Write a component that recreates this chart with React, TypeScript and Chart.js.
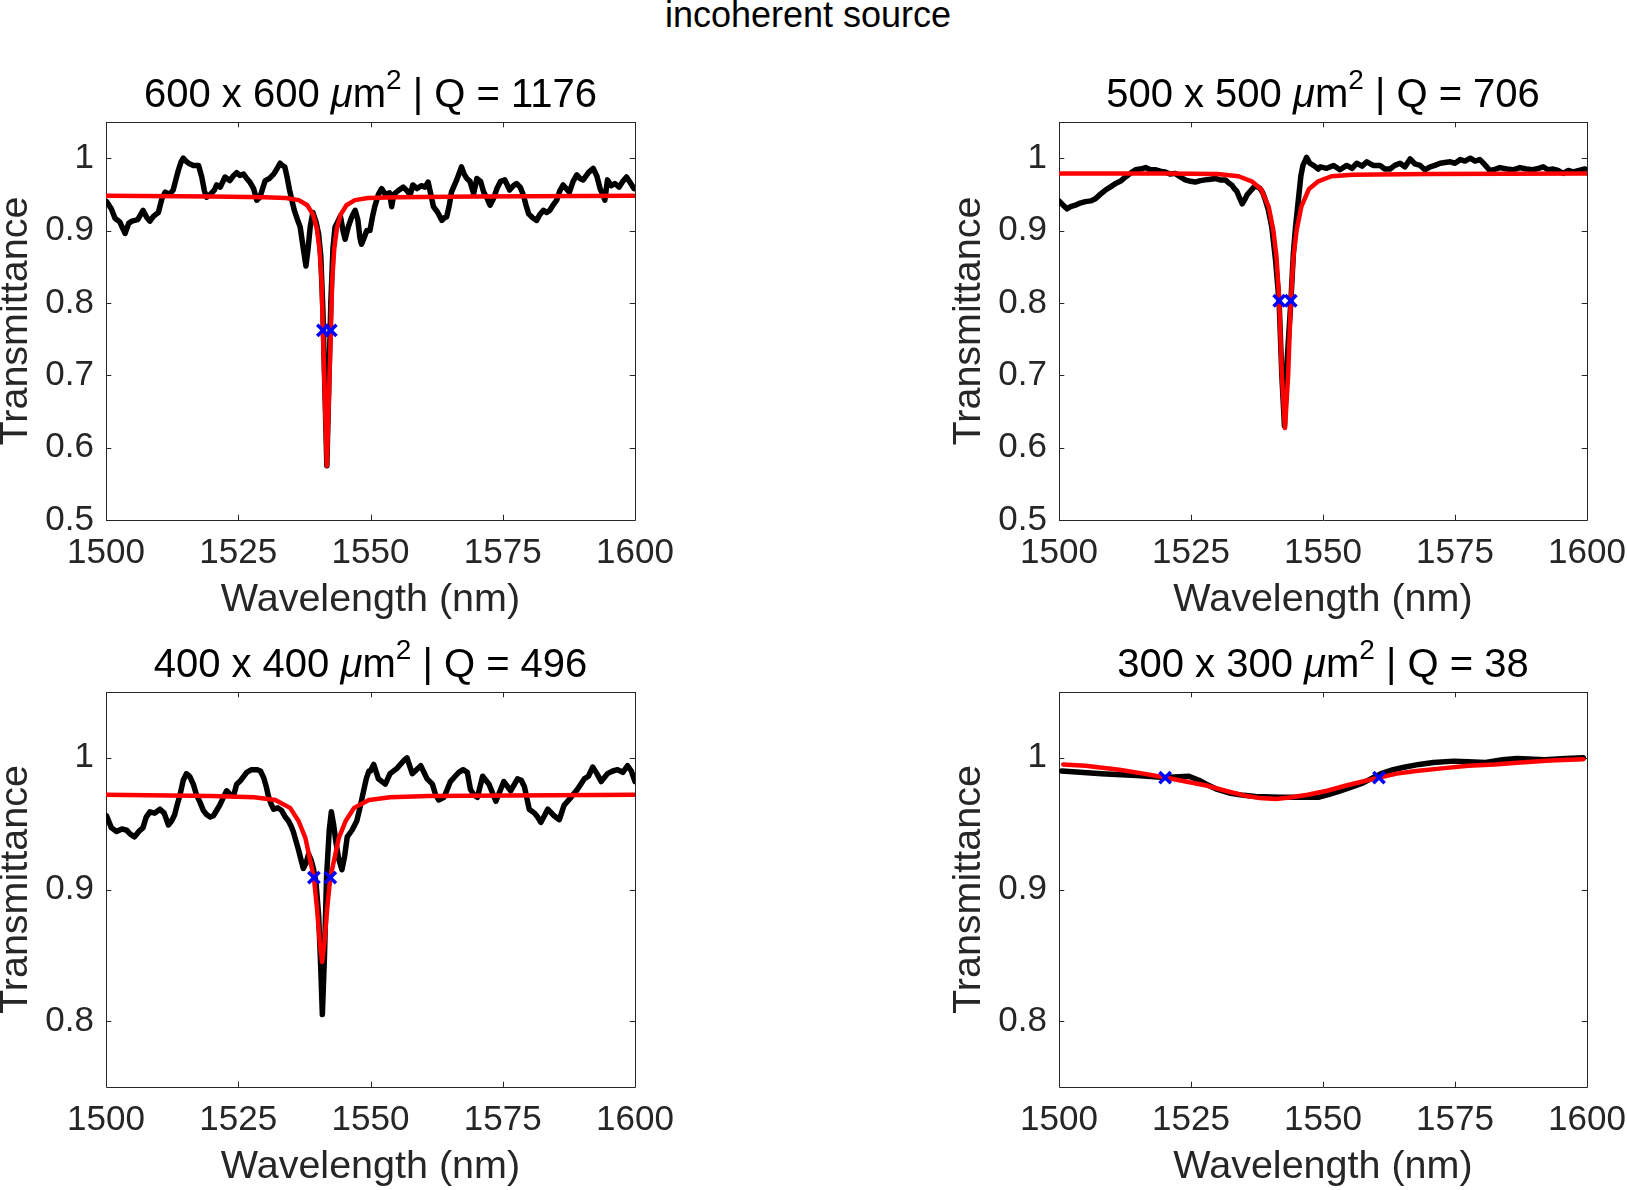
import React, { useEffect, useRef } from 'react';
import { Chart, registerables } from 'chart.js';

Chart.register(...registerables);

const FONT = "'Liberation Sans', Arial, Helvetica, sans-serif";
const AXIS_COLOR = '#262626';

// ---------- tick labels ----------
const xTicks = [1500, 1525, 1550, 1575, 1600];
const yTicksTop = [0.5, 0.6, 0.7, 0.8, 0.9, 1];
const yTicksBottom = [0.8, 0.9, 1];

// ---------- 600 x 600 ----------
const wl600 = [1500.1, 1501.0, 1501.7, 1502.6, 1503.6, 1504.3, 1504.9, 1506.0, 1507.0, 1507.7, 1508.3, 1509.0, 1509.9, 1510.6, 1511.2, 1512.0, 1512.7, 1513.2, 1513.7, 1514.2, 1514.6, 1515.1, 1515.6, 1516.5, 1517.5, 1518.1, 1518.6, 1519.0, 1519.7, 1520.5, 1520.9, 1521.6, 1522.5, 1523.4, 1524.0, 1524.7, 1525.3, 1526.0, 1526.6, 1527.2, 1527.9, 1528.5, 1529.1, 1529.6, 1530.1, 1530.9, 1531.7, 1532.3, 1532.9, 1533.3, 1533.8, 1534.2, 1534.7, 1535.2, 1535.6, 1536.2, 1536.7, 1537.2, 1537.8, 1538.2, 1538.6, 1539.1, 1539.7, 1540.2, 1540.6, 1541.0, 1541.4, 1541.75, 1542.1, 1542.5, 1542.9, 1543.3, 1543.8, 1544.3, 1544.8, 1545.2, 1545.8, 1546.4, 1547.1, 1547.6, 1548.0, 1548.3, 1548.8, 1549.3, 1549.9, 1550.4, 1550.8, 1551.5, 1552.1, 1552.8, 1553.6, 1554.0, 1554.4, 1555.2, 1556.2, 1556.9, 1557.5, 1558.0, 1558.8, 1559.6, 1560.3, 1560.9, 1561.4, 1561.9, 1562.7, 1563.5, 1564.0, 1564.4, 1564.9, 1565.3, 1566.3, 1566.8, 1567.2, 1567.7, 1568.2, 1568.8, 1569.5, 1570.1, 1570.8, 1571.4, 1572.0, 1572.6, 1573.3, 1573.9, 1574.6, 1575.4, 1576.3, 1577.0, 1577.6, 1578.3, 1578.9, 1579.4, 1579.9, 1580.6, 1581.4, 1582.0, 1582.7, 1583.3, 1583.9, 1584.5, 1585.2, 1585.8, 1586.4, 1587.0, 1587.6, 1588.3, 1589.0, 1589.6, 1590.2, 1591.2, 1592.1, 1592.8, 1593.4, 1593.9, 1594.3, 1594.8, 1595.5, 1596.2, 1597.0, 1597.7, 1598.4, 1599.2, 1599.8];
const t600 = [0.940, 0.930, 0.917, 0.912, 0.896, 0.910, 0.913, 0.915, 0.928, 0.918, 0.913, 0.920, 0.925, 0.945, 0.953, 0.950, 0.956, 0.970, 0.984, 0.995, 1.000, 0.996, 0.993, 0.990, 0.990, 0.974, 0.955, 0.946, 0.950, 0.956, 0.963, 0.960, 0.974, 0.969, 0.975, 0.980, 0.976, 0.978, 0.972, 0.967, 0.958, 0.942, 0.946, 0.958, 0.969, 0.972, 0.978, 0.985, 0.993, 0.990, 0.988, 0.975, 0.956, 0.940, 0.928, 0.915, 0.905, 0.880, 0.851, 0.875, 0.905, 0.925, 0.912, 0.895, 0.865, 0.790, 0.675, 0.575, 0.680, 0.800, 0.875, 0.905, 0.912, 0.920, 0.900, 0.888, 0.905, 0.918, 0.928, 0.915, 0.890, 0.881, 0.890, 0.900, 0.900, 0.920, 0.933, 0.950, 0.958, 0.950, 0.952, 0.933, 0.950, 0.955, 0.960, 0.955, 0.949, 0.963, 0.958, 0.962, 0.960, 0.967, 0.950, 0.933, 0.925, 0.914, 0.918, 0.919, 0.935, 0.953, 0.970, 0.980, 0.988, 0.978, 0.972, 0.968, 0.951, 0.972, 0.968, 0.953, 0.945, 0.935, 0.945, 0.958, 0.968, 0.970, 0.956, 0.962, 0.965, 0.960, 0.949, 0.935, 0.923, 0.918, 0.914, 0.922, 0.928, 0.925, 0.928, 0.935, 0.942, 0.955, 0.963, 0.958, 0.953, 0.968, 0.977, 0.972, 0.970, 0.980, 0.986, 0.975, 0.958, 0.950, 0.942, 0.970, 0.962, 0.965, 0.960, 0.968, 0.974, 0.965, 0.958];
const fitWl600 = [1500.1, 1520.0, 1530.0, 1534.0, 1536.45, 1538.05, 1539.15, 1539.85, 1540.35, 1540.75, 1541.0, 1541.4, 1541.75, 1542.1, 1542.5, 1542.75, 1543.15, 1543.65, 1544.35, 1545.45, 1547.05, 1549.5, 1555.0, 1570.0, 1599.8];
const fit600 = [0.948, 0.947, 0.946, 0.945, 0.942, 0.935, 0.922, 0.903, 0.875, 0.830, 0.762, 0.660, 0.575, 0.660, 0.762, 0.830, 0.875, 0.903, 0.922, 0.935, 0.942, 0.945, 0.946, 0.947, 0.948];
const hwWl600 = [1541.0, 1542.5];
const hw600 = [0.762, 0.762];

// ---------- 500 x 500 ----------
const wl500 = [1500.0, 1500.8, 1501.5, 1502.2, 1503.1, 1504.0, 1505.0, 1506.0, 1506.9, 1507.8, 1508.8, 1509.7, 1510.7, 1511.6, 1512.6, 1513.5, 1514.5, 1515.4, 1516.4, 1517.3, 1518.2, 1519.2, 1520.1, 1521.0, 1522.0, 1523.0, 1523.9, 1524.9, 1525.8, 1526.8, 1527.7, 1528.7, 1529.6, 1530.5, 1531.5, 1532.1, 1532.7, 1533.2, 1533.7, 1534.2, 1534.7, 1535.2, 1535.6, 1536.3, 1536.9, 1537.5, 1538.1, 1538.6, 1539.0, 1539.6, 1540.3, 1541.0, 1541.7, 1542.2, 1542.7, 1543.2, 1543.9, 1544.4, 1544.8, 1545.3, 1545.8, 1546.2, 1546.9, 1547.5, 1548.2, 1549.1, 1549.5, 1550.7, 1552.0, 1553.2, 1554.5, 1555.5, 1556.4, 1557.4, 1558.3, 1559.5, 1560.8, 1561.7, 1562.7, 1563.6, 1564.6, 1565.5, 1566.5, 1567.4, 1568.4, 1569.3, 1570.3, 1571.2, 1572.2, 1573.1, 1574.1, 1575.0, 1576.0, 1576.9, 1577.9, 1578.8, 1579.7, 1580.4, 1581.0, 1581.6, 1582.3, 1583.5, 1584.8, 1586.0, 1587.3, 1588.5, 1589.8, 1590.8, 1591.7, 1592.6, 1593.6, 1594.5, 1595.5, 1596.4, 1597.4, 1598.5, 1599.6];
const t500 = [0.941, 0.935, 0.930, 0.933, 0.935, 0.938, 0.940, 0.941, 0.944, 0.950, 0.956, 0.960, 0.965, 0.968, 0.974, 0.979, 0.984, 0.985, 0.987, 0.984, 0.984, 0.982, 0.981, 0.978, 0.979, 0.974, 0.970, 0.968, 0.967, 0.969, 0.970, 0.971, 0.972, 0.970, 0.970, 0.966, 0.963, 0.958, 0.954, 0.945, 0.937, 0.943, 0.949, 0.955, 0.960, 0.961, 0.958, 0.952, 0.944, 0.930, 0.905, 0.860, 0.800, 0.700, 0.630, 0.720, 0.800, 0.870, 0.905, 0.940, 0.975, 0.990, 1.001, 0.993, 0.990, 0.985, 0.988, 0.986, 0.990, 0.984, 0.990, 0.986, 0.993, 0.989, 0.995, 0.990, 0.990, 0.985, 0.985, 0.990, 0.993, 0.988, 0.999, 0.992, 0.990, 0.984, 0.988, 0.990, 0.993, 0.994, 0.995, 0.993, 0.998, 0.996, 1.000, 0.996, 0.998, 0.993, 0.988, 0.983, 0.984, 0.987, 0.985, 0.984, 0.987, 0.985, 0.984, 0.986, 0.988, 0.984, 0.985, 0.983, 0.979, 0.983, 0.981, 0.983, 0.985];
const fitWl500 = [1500.0, 1520.0, 1530.0, 1534.0, 1536.5, 1538.3, 1539.7, 1540.6, 1541.2, 1541.7, 1542.2, 1542.8, 1543.4, 1543.9, 1544.4, 1545.0, 1545.9, 1547.3, 1549.1, 1551.6, 1555.6, 1570.0, 1600.0];
const fit500 = [0.979, 0.979, 0.978, 0.975, 0.968, 0.957, 0.933, 0.900, 0.863, 0.803, 0.700, 0.627, 0.700, 0.803, 0.863, 0.900, 0.933, 0.957, 0.968, 0.975, 0.977, 0.978, 0.979];
const hwWl500 = [1541.7, 1543.9];
const hw500 = [0.803, 0.803];

// ---------- 400 x 400 ----------
const wl400 = [1500.1, 1501.0, 1502.0, 1503.0, 1503.9, 1504.6, 1505.4, 1506.2, 1507.0, 1507.6, 1508.3, 1509.2, 1510.2, 1511.0, 1511.8, 1512.4, 1513.0, 1513.5, 1514.0, 1514.6, 1515.2, 1515.8, 1516.5, 1517.1, 1517.8, 1518.4, 1519.0, 1519.7, 1520.3, 1520.9, 1521.5, 1522.2, 1522.8, 1523.5, 1524.1, 1524.7, 1525.5, 1526.6, 1527.5, 1528.5, 1529.2, 1529.8, 1530.3, 1530.7, 1531.2, 1531.7, 1532.5, 1533.2, 1533.9, 1534.5, 1535.0, 1535.4, 1535.9, 1536.4, 1536.9, 1537.3, 1537.8, 1538.3, 1538.8, 1539.2, 1539.7, 1540.2, 1540.6, 1540.9, 1541.3, 1541.7, 1542.2, 1542.6, 1543.0, 1543.5, 1544.0, 1544.6, 1545.1, 1545.6, 1546.5, 1547.4, 1548.0, 1548.7, 1549.2, 1549.7, 1550.0, 1550.6, 1551.5, 1552.8, 1553.7, 1555.0, 1556.3, 1556.9, 1557.9, 1558.7, 1559.5, 1560.7, 1561.7, 1562.3, 1562.9, 1563.9, 1564.5, 1565.1, 1566.0, 1566.7, 1567.5, 1568.3, 1568.9, 1569.5, 1570.2, 1571.2, 1572.4, 1573.7, 1574.5, 1575.2, 1576.5, 1577.8, 1578.5, 1579.1, 1580.0, 1581.0, 1581.6, 1582.2, 1583.0, 1583.5, 1584.7, 1585.7, 1586.6, 1587.9, 1589.1, 1590.4, 1591.2, 1592.0, 1592.8, 1593.6, 1594.8, 1595.8, 1596.7, 1597.7, 1598.6, 1599.3, 1600.0];
const t400 = [0.956, 0.947, 0.944, 0.946, 0.945, 0.942, 0.940, 0.944, 0.947, 0.955, 0.959, 0.958, 0.961, 0.958, 0.949, 0.952, 0.957, 0.965, 0.972, 0.983, 0.988, 0.986, 0.980, 0.972, 0.966, 0.960, 0.957, 0.955, 0.956, 0.960, 0.964, 0.970, 0.975, 0.972, 0.971, 0.980, 0.983, 0.989, 0.991, 0.991, 0.990, 0.985, 0.978, 0.971, 0.965, 0.961, 0.962, 0.960, 0.955, 0.952, 0.948, 0.944, 0.937, 0.930, 0.922, 0.916, 0.920, 0.927, 0.922, 0.916, 0.905, 0.880, 0.840, 0.805, 0.850, 0.910, 0.945, 0.959, 0.950, 0.935, 0.923, 0.915, 0.925, 0.940, 0.945, 0.952, 0.962, 0.975, 0.984, 0.990, 0.990, 0.995, 0.984, 0.980, 0.988, 0.992, 0.998, 1.000, 0.988, 0.991, 0.994, 0.984, 0.980, 0.972, 0.968, 0.970, 0.976, 0.982, 0.986, 0.989, 0.991, 0.989, 0.976, 0.972, 0.970, 0.986, 0.980, 0.967, 0.975, 0.982, 0.975, 0.984, 0.983, 0.978, 0.961, 0.958, 0.955, 0.951, 0.957, 0.961, 0.956, 0.953, 0.964, 0.970, 0.976, 0.984, 0.986, 0.993, 0.988, 0.982, 0.988, 0.990, 0.991, 0.989, 0.994, 0.990, 0.982];
const fitWl400 = [1500.0, 1520.0, 1528.0, 1532.0, 1534.8, 1536.4, 1537.7, 1538.6, 1539.3, 1539.9, 1540.4, 1540.85, 1541.3, 1541.8, 1542.4, 1543.1, 1544.0, 1545.3, 1546.9, 1549.7, 1553.7, 1561.0, 1600.0];
const fit400 = [0.972, 0.971, 0.970, 0.968, 0.962, 0.952, 0.939, 0.922, 0.909, 0.885, 0.860, 0.845, 0.860, 0.885, 0.909, 0.922, 0.939, 0.952, 0.962, 0.968, 0.970, 0.971, 0.972];
const hwWl400 = [1539.3, 1542.4];
const hw400 = [0.909, 0.909];

// ---------- 300 x 300 ----------
const wl300 = [1500.5, 1504.0, 1508.1, 1514.7, 1520.0, 1524.6, 1526.5, 1527.9, 1530.0, 1532.5, 1535.0, 1537.2, 1541.8, 1546.0, 1549.1, 1551.0, 1553.0, 1555.5, 1557.6, 1559.5, 1561.0, 1563.3, 1565.6, 1568.2, 1570.9, 1574.8, 1577.5, 1580.8, 1584.0, 1586.7, 1592.0, 1596.0, 1599.3];
const t300 = [0.990, 0.989, 0.988, 0.9865, 0.985, 0.986, 0.983, 0.980, 0.976, 0.973, 0.9715, 0.9706, 0.970, 0.970, 0.970, 0.972, 0.9746, 0.978, 0.981, 0.985, 0.988, 0.991, 0.993, 0.995, 0.9965, 0.9975, 0.997, 0.9965, 0.9985, 0.9995, 0.9985, 0.9995, 1.000];
const fitWl300 = [1500.8, 1505.0, 1511.4, 1516.0, 1520.1, 1524.0, 1527.9, 1531.5, 1535.2, 1538.0, 1541.1, 1544.0, 1547.1, 1550.8, 1554.4, 1557.5, 1560.6, 1564.0, 1567.6, 1572.5, 1577.5, 1582.5, 1587.4, 1593.0, 1599.3];
const fit300 = [0.995, 0.994, 0.991, 0.988, 0.985, 0.982, 0.979, 0.975, 0.9713, 0.9695, 0.9687, 0.970, 0.972, 0.975, 0.979, 0.982, 0.985, 0.988, 0.990, 0.992, 0.994, 0.995, 0.9965, 0.998, 0.999];
const hwWl300 = [1520.1, 1560.6];
const hw300 = [0.985, 0.985];

// ---------- layout ----------
const Y_AXIS_W = 110;
const X_AXIS_H = 100;
const PAD_TOP = 40;
const PAD_RIGHT = 60;

type PanelDef = {
  dims: string;
  q: string;
  wl: number[];
  t: number[];
  fitWl: number[];
  fit: number[];
  hwWl: number[];
  hw: number[];
  yMin: number;
  yMax: number;
  yTicks: number[];
  plotLeft: number;
  plotTop: number;
  plotW: number;
  plotH: number;
};

const panels: PanelDef[] = [
  { dims: '600 x 600', q: '1176', wl: wl600, t: t600, fitWl: fitWl600, fit: fit600, hwWl: hwWl600, hw: hw600, yMin: 0.5, yMax: 1.05, yTicks: yTicksTop, plotLeft: 106, plotTop: 122, plotW: 529, plotH: 398 },
  { dims: '500 x 500', q: '706', wl: wl500, t: t500, fitWl: fitWl500, fit: fit500, hwWl: hwWl500, hw: hw500, yMin: 0.5, yMax: 1.05, yTicks: yTicksTop, plotLeft: 1059, plotTop: 122, plotW: 528, plotH: 398 },
  { dims: '400 x 400', q: '496', wl: wl400, t: t400, fitWl: fitWl400, fit: fit400, hwWl: hwWl400, hw: hw400, yMin: 0.75, yMax: 1.05, yTicks: yTicksBottom, plotLeft: 106, plotTop: 692, plotW: 529, plotH: 395 },
  { dims: '300 x 300', q: '38', wl: wl300, t: t300, fitWl: fitWl300, fit: fit300, hwWl: hwWl300, hw: hw300, yMin: 0.75, yMax: 1.05, yTicks: yTicksBottom, plotLeft: 1059, plotTop: 692, plotW: 528, plotH: 395 },
];

const toXY = (xs: number[], ys: number[]) => xs.map((x, i) => ({ x, y: ys[i] }));

const boxPlugin = {
  id: 'matlabBox',
  beforeDatasetsDraw(chart: any) {
    const { ctx, chartArea } = chart;
    const { left, right, top, bottom } = chartArea;
    const xs = chart.scales.x;
    const ys = chart.scales.y;
    const TL = 5.3;
    const r = (v: number) => Math.round(v) + 0.5;
    ctx.save();
    ctx.strokeStyle = AXIS_COLOR;
    ctx.lineWidth = 1;
    ctx.beginPath();
    ctx.rect(r(left), r(top), Math.round(right) - Math.round(left), Math.round(bottom) - Math.round(top));
    xs.ticks.forEach((tk: any) => {
      const px = r(xs.getPixelForValue(tk.value));
      ctx.moveTo(px, bottom);
      ctx.lineTo(px, bottom - TL);
      ctx.moveTo(px, top);
      ctx.lineTo(px, top + TL);
    });
    ys.ticks.forEach((tk: any) => {
      const py = r(ys.getPixelForValue(tk.value));
      ctx.moveTo(left, py);
      ctx.lineTo(left + TL, py);
      ctx.moveTo(right, py);
      ctx.lineTo(right - TL, py);
    });
    ctx.stroke();
    ctx.restore();
  },
};

function PanelChart({ p }: { p: PanelDef }) {
  const ref = useRef<HTMLCanvasElement>(null);
  const cw = p.plotW + Y_AXIS_W + PAD_RIGHT;
  const ch = p.plotH + PAD_TOP + X_AXIS_H;

  useEffect(() => {
    const canvas = ref.current;
    if (!canvas) return;
    const chart = new Chart(canvas, {
      type: 'scatter',
      data: {
        datasets: [
          {
            label: 'half width',
            data: toXY(p.hwWl, p.hw),
            showLine: false,
            pointStyle: 'crossRot',
            pointRadius: 8,
            pointBorderWidth: 3.5,
            borderColor: '#0000ff',
            backgroundColor: '#0000ff',
            order: 1,
          } as any,
          {
            label: 'fit',
            data: toXY(p.fitWl, p.fit),
            showLine: true,
            borderColor: '#ff0000',
            borderWidth: 4.5,
            pointRadius: 0,
            tension: 0,
            borderJoinStyle: 'round',
            borderCapStyle: 'round',
            order: 2,
          } as any,
          {
            label: 'data',
            data: toXY(p.wl, p.t),
            showLine: true,
            borderColor: '#000000',
            borderWidth: 5.5,
            pointRadius: 0,
            tension: 0,
            borderJoinStyle: 'round',
            borderCapStyle: 'round',
            order: 3,
          } as any,
        ],
      },
      options: {
        responsive: false,
        animation: false,
        events: [],
        layout: { padding: { left: 0, top: PAD_TOP, right: PAD_RIGHT, bottom: 0 } },
        plugins: {
          legend: { display: false },
          tooltip: { enabled: false },
          title: { display: false },
        },
        scales: {
          x: {
            type: 'linear',
            min: 1500,
            max: 1600,
            afterBuildTicks: (s: any) => {
              s.ticks = xTicks.map((v) => ({ value: v }));
            },
            afterFit: (s: any) => {
              s.height = X_AXIS_H;
            },
            grid: { display: false, drawTicks: false },
            border: { display: false },
            ticks: {
              font: { size: 35, family: FONT },
              color: AXIS_COLOR,
              padding: 12.5,
              maxRotation: 0,
              minRotation: 0,
              autoSkip: false,
              callback: (v: any) => String(v),
            },
            title: {
              display: true,
              text: 'Wavelength (nm)',
              font: { size: 39.5, family: FONT, lineHeight: 1 },
              color: AXIS_COLOR,
              padding: 0,
            },
          },
          y: {
            type: 'linear',
            min: p.yMin,
            max: p.yMax,
            afterBuildTicks: (s: any) => {
              s.ticks = p.yTicks.map((v) => ({ value: v }));
            },
            afterFit: (s: any) => {
              s.width = Y_AXIS_W;
            },
            grid: { display: false, drawTicks: false },
            border: { display: false },
            ticks: {
              font: { size: 35, family: FONT },
              color: AXIS_COLOR,
              padding: 12,
              autoSkip: false,
              callback: (v: any) => String(v),
            },
            title: {
              display: true,
              text: 'Transmittance',
              font: { size: 39.5, family: FONT, lineHeight: 1 },
              color: AXIS_COLOR,
              padding: 0,
            },
          },
        },
      } as any,
      plugins: [boxPlugin],
    });
    return () => chart.destroy();
  }, [p]);

  const cx = p.plotLeft + p.plotW / 2;
  const baseline = p.plotTop - 15.5;

  return (
    <>
      <canvas
        ref={ref}
        width={cw}
        height={ch}
        style={{
          position: 'absolute',
          left: p.plotLeft - Y_AXIS_W,
          top: p.plotTop - PAD_TOP,
          width: cw,
          height: ch,
        }}
      />
      <div
        style={{
          position: 'absolute',
          left: cx - 400,
          width: 800,
          top: baseline - 33.86,
          textAlign: 'center',
          fontSize: 40,
          lineHeight: '40px',
          color: '#000',
          whiteSpace: 'nowrap',
          fontFamily: FONT,
        }}
      >
        {p.dims + ' '}
        <span style={{ fontStyle: 'italic' }}>μ</span>m
        <span style={{ fontSize: 28, position: 'relative', top: -18 }}>2</span>
        {' | Q = ' + p.q}
      </div>
    </>
  );
}

export default function App() {
  return (
    <div
      style={{
        position: 'absolute',
        left: 0,
        top: 0,
        width: 1627,
        height: 1190,
        overflow: 'hidden',
        background: '#ffffff',
        fontFamily: FONT,
      }}
    >
      <div
        style={{
          position: 'absolute',
          left: 808 - 300,
          width: 600,
          top: 27 - 30.47,
          textAlign: 'center',
          fontSize: 36,
          lineHeight: '36px',
          color: '#000',
          whiteSpace: 'nowrap',
        }}
      >
        incoherent source
      </div>
      {panels.map((p) => (
        <PanelChart key={p.dims} p={p} />
      ))}
    </div>
  );
}
